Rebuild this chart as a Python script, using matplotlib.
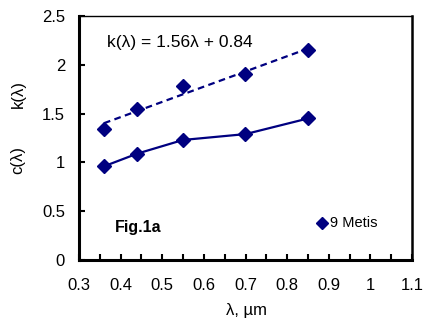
import numpy as np
import matplotlib.pyplot as plt
from matplotlib.ticker import MultipleLocator

plt.rcParams['font.family'] = ['Liberation Sans', 'DejaVu Sans']

wavelength = [0.36, 0.44, 0.55, 0.70, 0.85]
k_values = [1.34, 1.55, 1.78, 1.91, 2.15]
c_values = [0.96, 1.09, 1.23, 1.29, 1.45]
fit_slope = 1.56
fit_intercept = 0.84

navy = "#000080"

fig = plt.figure(figsize=(4.24, 3.22), dpi=100)
ax = fig.add_axes([79 / 424, 62 / 322, 333 / 424, 244 / 322])

fit_x = np.array([wavelength[0], wavelength[-1]])
ax.plot(fit_x, fit_slope * fit_x + fit_intercept, "--", color=navy, lw=1.6,
        dashes=(3, 2))
ax.plot(wavelength, k_values, "D", color=navy, ms=7.5, ls="none")
ax.plot(wavelength, c_values, "-D", color=navy, ms=7.5, lw=1.6)

ax.set_xlim(0.3, 1.1)
ax.set_ylim(0, 2.5)
ax.xaxis.set_major_locator(MultipleLocator(0.1))
ax.xaxis.set_minor_locator(MultipleLocator(0.05))
ax.yaxis.set_major_locator(MultipleLocator(0.5))
ax.xaxis.set_major_formatter(plt.FuncFormatter(lambda v, p: f"{v:g}"))
ax.yaxis.set_major_formatter(plt.FuncFormatter(lambda v, p: f"{v:g}"))
ax.tick_params(direction="in", length=4, width=1.5, labelsize=12)
ax.tick_params(which="minor", direction="in", length=4, width=1.5)
ax.tick_params(axis="y", which="both", right=False, pad=10)
ax.tick_params(axis="x", which="both", top=False, pad=13)

ax.spines["left"].set_linewidth(2.2)
ax.spines["bottom"].set_linewidth(2.2)
ax.spines["right"].set_linewidth(1.8)
ax.spines["top"].set_linewidth(1.0)

ax.text(0.085, 0.875, "k(λ) = 1.56λ + 0.84", transform=ax.transAxes,
        fontsize=12.5)
ax.text(0.108, 0.115, "Fig.1a", transform=ax.transAxes, fontsize=11.5,
        fontweight="bold")
ax.plot([0.883], [0.38], "D", color=navy, ms=6.5, ls="none")
ax.text(0.902, 0.38, "9 Metis", fontsize=10.5, va="center")

fig.text(18 / 424, 1 - 94 / 322, "k(λ)", rotation=90, fontsize=12,
         ha="center", va="center")
fig.text(18 / 424, 1 - 160 / 322, "c(λ)", rotation=90, fontsize=12,
         ha="center", va="center")
fig.text(246 / 424, 1 - 310 / 322, "λ, µm", fontsize=12, ha="center",
         va="center")

fig.savefig("out.png", dpi=100)
